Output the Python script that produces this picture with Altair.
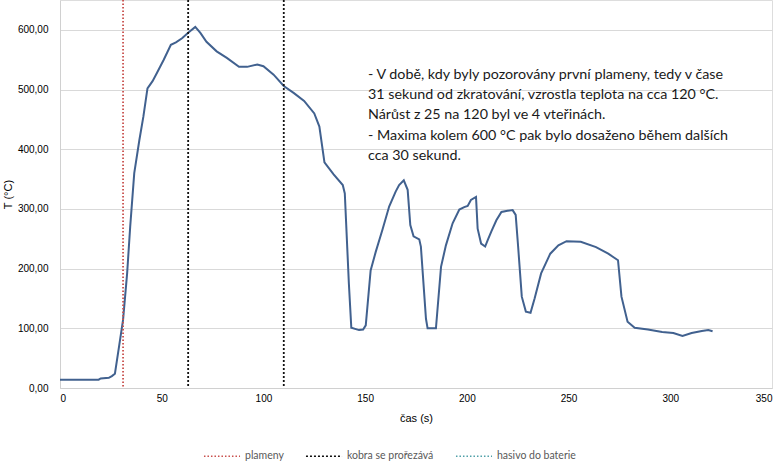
import altair as alt
import pandas as pd

time_s = [0, 19, 20, 24, 25.5, 27, 29, 31, 33, 34.5, 36.5, 39, 41, 43, 45.5, 47.5, 51, 54.5, 57, 60,
          63, 66.5, 69, 72, 77, 82, 88, 92, 97, 100, 105, 110, 115, 120, 125, 127.5, 130, 134.5,
          139, 140, 142, 143.2, 147, 149, 150.3, 152.7, 155.2, 158.5, 161.8, 165, 166.7, 169,
          170.9, 172.2, 173.8, 176.6, 177.4, 179.9, 180.7, 184.8, 187.3, 189.7, 193, 196.3, 198.7,
          200.4, 202, 204.5, 205.3, 207, 209, 210.3, 212, 214.5, 217, 220, 222.5, 224, 225.2, 227,
          229, 231.3, 233.3, 236.5, 241, 245, 249, 256, 263.5, 269.5, 274.3, 276, 279, 282.5, 289,
          296, 301.5, 306, 310.5, 315.5, 318.7, 320.8]
temp_c = [14, 14, 16, 17, 20, 24, 69, 114, 192, 270, 360, 415, 455, 502, 514, 527, 550, 575, 579, 586,
          595, 605, 595, 580, 564, 553, 538, 538, 542, 539, 525, 506, 494, 481, 460, 438, 378, 358,
          340, 326, 175, 101, 97, 98, 105, 197, 228, 265, 304, 329, 340, 348,
          332, 273, 254, 249, 237, 116, 100, 100, 203, 239, 276, 299, 303,
          305, 315, 320, 267, 242, 237, 248, 262, 281, 295, 297, 298, 290, 237, 153,
          128, 126, 150, 192, 225, 239, 246, 245, 236, 225, 214, 153, 111, 101, 98,
          94, 92, 87, 92, 95.6, 97, 95]

marker_names = ["plameny", "kobra se prořezává", "hasivo do baterie"]
marker_colors = ["#c9504d", "#111111", "#4fa0a8"]
marker_series = ["plameny", "kobra se prořezává", "kobra se prořezává"]
marker_times = [31, 63, 110]

y_ticks = [0, 100, 200, 300, 400, 500, 600]
x_ticks = [0, 50, 100, 150, 200, 250, 300, 350]

note_lines = [
    "- V době, kdy byly pozorovány první plameny, tedy  v čase",
    "31 sekund od zkratování, vzrostla teplota na cca  120 °C.",
    "Nárůst z 25  na 120 byl ve 4 vteřinách.",
    "- Maxima kolem 600 °C pak bylo dosaženo během dalších",
    "cca 30 sekund.",
]

FONT = "Lato"

df = pd.DataFrame({"t": time_s, "T": temp_c})
markers = pd.DataFrame({"t": marker_times, "series": marker_series})

x_enc = alt.X("t:Q", scale=alt.Scale(domain=[0, 350], nice=False),
              axis=alt.Axis(values=x_ticks, title="čas (s)", grid=False, ticks=False,
                            domainColor="#d0d0d0", labelPadding=5, titlePadding=9,
                            titleFontWeight=400))
y_enc = alt.Y("T:Q", scale=alt.Scale(domain=[0, 650], nice=False),
              axis=alt.Axis(values=y_ticks, title="T (°C)", ticks=False, grid=True,
                            gridColor="#d9d9d9", domainColor="#d0d0d0",
                            labelExpr="replace(format(datum.value, '.2f'), '.', ',')",
                            labelPadding=12, titleX=-47, titleY=194, titleFontWeight=400))

line = alt.Chart(df).mark_line(color="#41618f", strokeWidth=2).encode(x=x_enc, y=y_enc)

rules = alt.Chart(markers).mark_rule(strokeWidth=1.8).encode(
    x=alt.X("t:Q"),
    color=alt.Color("series:N",
                    scale=alt.Scale(domain=marker_names, range=marker_colors),
                    legend=alt.Legend(title=None, orient="none", direction="horizontal",
                                      legendX=143, legendY=437, symbolType="stroke",
                                      symbolSize=1300, symbolStrokeWidth=1.5,
                                      symbolDash=[1.5, 1.5], columnPadding=18,
                                      labelFontSize=10.5, labelColor="#595959",
                                      labelFont=FONT, labelOffset=4)),
    strokeDash=alt.StrokeDash("series:N",
                              scale=alt.Scale(domain=marker_names,
                                              range=[[1.5, 2], [2, 2], [1.5, 2]]),
                              legend=None),
)

note = alt.Chart(alt.Data(values=[{"k": 1}])).mark_text(
    text=note_lines, align="left", baseline="top", fontSize=14.3, lineHeight=20.2,
    font=FONT, color="#1a1a1a",
).encode(x=alt.value(308), y=alt.value(68))

chart = alt.layer(line, rules, note).properties(
    width=712, height=388,
    autosize=alt.AutoSizeParams(type="none"),
    padding={"left": 60, "top": 0, "right": 8, "bottom": 75},
).configure_view(stroke=None).configure_axis(
    labelFont=FONT, titleFont=FONT, labelFontSize=11, titleFontSize=11,
    labelColor="#595959", titleColor="#595959",
).configure(background="white")

chart.save("out.html", embed_options={"renderer": "svg", "actions": False})
